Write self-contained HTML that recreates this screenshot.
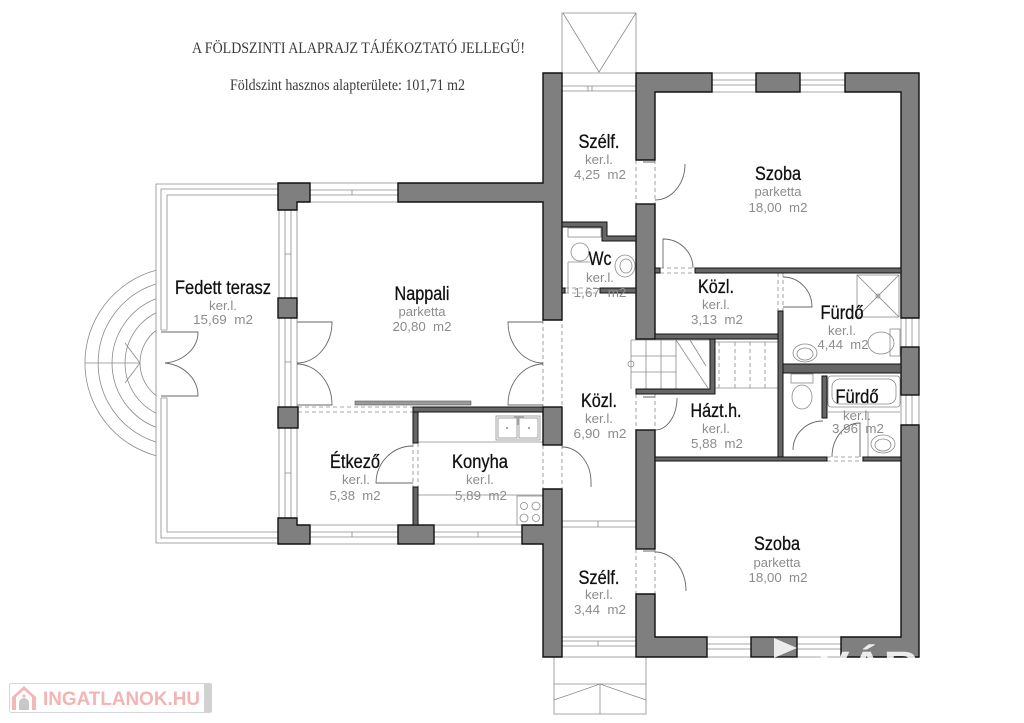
<!DOCTYPE html>
<html><head><meta charset="utf-8">
<style>
html,body{margin:0;padding:0;background:#fff;}
svg{display:block;}
.w{fill:#7f7f7f;stroke:#111;stroke-width:1.4;}
.t{fill:#666;stroke:#111;stroke-width:1;}
.l{fill:none;stroke:#8a8a8a;stroke-width:0.8;}
.d{fill:none;stroke:#8a8a8a;stroke-width:0.8;stroke-dasharray:4 3;}
.a{fill:none;stroke:#666;stroke-width:0.9;}
.n{font-family:"Liberation Sans",sans-serif;font-size:19px;fill:#111;stroke:#111;stroke-width:0.3;text-anchor:middle;}
.s{font-family:"Liberation Sans",sans-serif;font-size:13px;fill:#8c8c8c;text-anchor:middle;}
.ti{font-family:"Liberation Serif",serif;font-size:16px;fill:#3a3a3a;}
</style></head><body>
<svg width="1024" height="723" viewBox="0 0 1024 723" xmlns="http://www.w3.org/2000/svg">

<!-- Title -->
<text class="ti" x="192" y="53" textLength="333" lengthAdjust="spacingAndGlyphs">A FÖLDSZINTI ALAPRAJZ TÁJÉKOZTATÓ JELLEGŰ!</text>
<text class="ti" x="230" y="90" textLength="235" lengthAdjust="spacingAndGlyphs">Földszint hasznos alapterülete: 101,71 m2</text>

<!-- top steps -->
<path class="l" d="M562 73V13H636V73 M563 13L599 72L636 13"/>
<!-- bottom steps -->
<path class="l" d="M554 657V714H646V657 M554 684H646 M554 700L600 684L646 700 M600 684V714"/>

<!-- terrace frame -->
<path class="l" d="M278 184H156V543H278"/>
<path class="l" d="M278 189H161V330 M161 398V538H278"/>
<path class="l" d="M278 195H167V330H161 M161 398H167V532H278"/>
<!-- terrace step arcs -->
<path class="l" d="M156 270.3A96 96 0 0 0 156 455.7 M156 283.9A83 83 0 0 0 156 442.1 M156 298.7A69 69 0 0 0 156 427.3 M156 312.9A56 56 0 0 0 156 413.1 M156 330.5A41 41 0 0 0 156 395.5 M85 363H140 M125 343L140 363L125 383"/>
<!-- terrace door -->
<path class="a" d="M161 332H198A37 31 0 0 1 165 363 M161 396H198A37 33 0 0 0 165 363"/>

<!-- windows west -->
<path class="l" d="M279 210V298 M285 210V298 M291 210V298 M297 210V298 M279 318V407 M285 318V407 M291 318V407 M297 318V407 M279 428V518 M285 428V518 M291 428V518 M297 428V518 M285 254H291 M285 362H291 M285 473H291"/>
<!-- windows east -->
<path class="l" d="M906 318V347 M912 318V347 M906 395V425 M912 395V425 M901 318V347 M919 318V347 M901 395V425 M919 395V425"/>
<!-- horizontal windows -->
<path class="l" d="M310 183H398 M310 202H398 M310 190H398 M310 195H398 M352 190V195"/>
<path class="l" d="M562 86H636 M562 91H636 M562 73H636 M588 86V91 M592 86V91"/>
<path class="l" d="M712 80H756 M712 85H756 M712 73H756 M712 92H756 M800 80H845 M800 85H845 M800 73H845 M800 92H845"/>
<path class="l" d="M310 525H398 M310 544H398 M310 532H398 M310 537H398 M352 532V537 M434 525H522 M434 544H522 M434 532H522 M434 537H522 M478 532V537"/>
<path class="l" d="M562 521H636 M562 527H636 M598 521V527 M562 637H636 M562 657H636 M562 641H636 M562 646H636 M598 641V646"/>
<path class="l" d="M707 637H751 M707 657H751 M707 644H751 M707 649H751 M797 637H841 M797 657H841 M797 644H841 M797 649H841"/>

<!-- dashed door lines -->
<path class="d" d="M543 320V407 M562 296V407 M298 407H413 M298 412H413 M413 443V487 M418 443V487 M543 445V489 M562 445V489 M636 160V204 M655 160V204 M565 288H600 M565 293H600 M660 268H695 M660 273H695 M778 273V311 M783 273V311 M636 394V430 M655 394V430 M636 549V594 M655 549V594 M827 457H863 M827 461H863"/>

<!-- gray bar -->
<rect x="355" y="401" width="116" height="4" fill="#9a9a9a" stroke="#555" stroke-width="0.6"/>

<!-- door arcs -->
<path class="a" d="M297 322H332A35 41 0 0 1 297 363 M297 405H332A35 41 0 0 0 297 364"/>
<path class="a" d="M543 322H508A35 41 0 0 0 543 363 M543 405H508A35 41 0 0 1 543 364"/>
<path class="a" d="M413 483H376A37 37 0 0 1 413 446"/>
<path class="a" d="M562 447A29 35 0 0 1 591 482V487"/>
<path class="a" d="M643 162H655 M685 164A30 36 0 0 1 655 200"/>
<path class="a" d="M663 268V239A30 29 0 0 1 693 268"/>
<path class="a" d="M783 277A29 30 0 0 1 812 307H783"/>
<path class="a" d="M643 397H655 M677 398A22 32 0 0 1 655 430"/>
<path class="a" d="M643 551H655 M655 552A31 39 0 0 1 686 591"/>
<path class="a" d="M793 450A30 29 0 0 1 823 421"/>
<path class="a" d="M832 457A28 34 0 0 1 860 423V457"/>

<!-- stairs -->
<path class="l" d="M631 340H710 M631 340V389 M646 340V389 M661 340V389 M676 340V389 M631 356H676 M631 372H676 M676 340L708 388 M690 340L706 366"/>
<circle class="l" cx="631" cy="364" r="3"/>
<path class="l" d="M715 342H778 M715 388H778"/>
<path class="d" d="M719 342V388 M735 342V388 M750 342V388 M765 342V388"/>

<!-- kitchen fixtures -->
<path class="l" d="M418 442H543 M418 495H543"/>
<rect class="l" x="496" y="416" width="44" height="24"/>
<rect class="l" x="498" y="418" width="19" height="20"/>
<rect class="l" x="519" y="418" width="19" height="20"/>
<path class="l" d="M514 417H524 M518 417V425"/>
<circle cx="507" cy="428" r="1" fill="#888"/><circle cx="529" cy="428" r="1" fill="#888"/>
<rect class="l" x="517" y="496" width="26" height="29"/>
<circle class="l" cx="524" cy="506" r="3.5"/><circle class="l" cx="536" cy="506" r="4"/>
<circle class="l" cx="524" cy="518" r="4"/><circle class="l" cx="536" cy="518" r="3.5"/>

<!-- WC fixtures -->
<rect class="l" x="568" y="228" width="33" height="9"/>
<circle class="l" cx="580" cy="252" r="9"/>
<path class="l" d="M568 262V293 M568 262H590"/>
<ellipse class="l" cx="625" cy="266" rx="10" ry="11"/>
<ellipse class="l" cx="626" cy="266" rx="6" ry="7"/>

<!-- bath fixtures -->
<rect class="l" x="857" y="275" width="42" height="42"/>
<path class="l" d="M857 275L899 317 M899 275L857 317"/>
<circle class="l" cx="878" cy="296" r="2"/>
<rect class="l" x="890" y="329" width="10" height="27"/>
<ellipse class="l" cx="881" cy="343" rx="13" ry="11"/>
<ellipse class="l" cx="805" cy="353" rx="12" ry="9"/>
<ellipse class="l" cx="805" cy="354" rx="8" ry="6"/>
<rect class="l" x="791" y="374" width="22" height="9"/>
<ellipse class="l" cx="802" cy="397" rx="10" ry="12"/>
<rect class="l" x="828" y="376" width="72" height="31" rx="3"/>
<rect class="l" x="832" y="379" width="64" height="25" rx="8"/>
<path class="l" d="M828 412H900 M868 412V457"/>
<ellipse class="l" cx="883" cy="444" rx="12" ry="9"/>
<ellipse class="l" cx="883" cy="445" rx="8" ry="6"/>

<!-- thick walls -->
<path class="w" d="M278 183H310V202H297V210H278Z"/>
<rect class="w" x="278" y="298" width="19" height="20"/>
<rect class="w" x="278" y="407" width="20" height="21"/>
<path class="w" d="M278 518H297V525H310V544H278Z"/>
<rect class="w" x="398" y="525" width="36" height="19"/>
<path class="w" d="M522 525H543V489H562V657H543V544H522Z"/>
<rect class="w" x="543" y="407" width="19" height="38"/>
<path class="w" d="M398 183H543V73H562V320H543V202H398Z"/>
<path class="w" d="M636 73H712V92H655V160H636Z"/>
<rect class="w" x="756" y="73" width="44" height="19"/>
<path class="w" d="M845 73H919V318H901V92H845Z"/>
<rect class="w" x="901" y="347" width="18" height="48"/>
<path class="w" d="M901 425H919V657H841V637H901Z"/>
<rect class="w" x="751" y="637" width="46" height="20"/>
<rect class="w" x="636" y="430" width="19" height="119"/>
<path class="w" d="M636 594H655V637H707V657H636Z"/>
<rect class="w" x="636" y="204" width="19" height="135"/>

<!-- thin walls -->
<rect class="t" x="413" y="407" width="130" height="5"/>
<rect class="t" x="413" y="412" width="5" height="31"/>
<rect class="t" x="413" y="487" width="5" height="38"/>
<path class="t" d="M562 222H607V236H636V241H602V227H562Z"/>
<rect class="t" x="600" y="288" width="36" height="5"/>
<rect class="t" x="562" y="288" width="3" height="5"/>
<rect class="t" x="695" y="268" width="206" height="5"/>
<rect class="t" x="655" y="268" width="5" height="5"/>
<rect class="t" x="655" y="334" width="123" height="5"/>
<rect class="t" x="778" y="311" width="5" height="150"/>
<path class="t" d="M636 389H710V339H715V394H636Z"/>
<rect class="t" x="655" y="457" width="172" height="4"/>
<rect class="t" x="863" y="457" width="38" height="4"/>
<rect class="t" x="783" y="364" width="118" height="9"/>
<rect class="t" x="822" y="376" width="5" height="42"/>

<!-- watermark -->
<polygon points="774,638 797,648 774,658" fill="#fff" opacity="0.85"/>
<text x="818" y="678" font-family="Liberation Sans, sans-serif" font-weight="bold" font-size="38" fill="#fff" opacity="0.85" textLength="100" lengthAdjust="spacingAndGlyphs">VÁR</text>

<!-- labels -->
<text class="n" x="223" y="294" textLength="96" lengthAdjust="spacingAndGlyphs">Fedett terasz</text>
<text class="s" x="223" y="310" textLength="28" lengthAdjust="spacingAndGlyphs">ker.l.</text>
<text class="s" x="223" y="324" textLength="60" lengthAdjust="spacingAndGlyphs" xml:space="preserve">15,69  m2</text>

<text class="n" x="422" y="300" textLength="55" lengthAdjust="spacingAndGlyphs">Nappali</text>
<text class="s" x="422" y="316" textLength="47" lengthAdjust="spacingAndGlyphs">parketta</text>
<text class="s" x="422" y="331" textLength="59" lengthAdjust="spacingAndGlyphs" xml:space="preserve">20,80  m2</text>

<text class="n" x="355" y="468" textLength="50" lengthAdjust="spacingAndGlyphs">Étkező</text>
<text class="s" x="356" y="484" textLength="28" lengthAdjust="spacingAndGlyphs">ker.l.</text>
<text class="s" x="355" y="500" textLength="51" lengthAdjust="spacingAndGlyphs" xml:space="preserve">5,38  m2</text>

<text class="n" x="480" y="468" textLength="56" lengthAdjust="spacingAndGlyphs">Konyha</text>
<text class="s" x="480" y="484" textLength="28" lengthAdjust="spacingAndGlyphs">ker.l.</text>
<text class="s" x="481" y="500" textLength="52" lengthAdjust="spacingAndGlyphs" xml:space="preserve">5,89  m2</text>

<text class="n" x="599" y="407" textLength="36" lengthAdjust="spacingAndGlyphs">Közl.</text>
<text class="s" x="599" y="423" textLength="28" lengthAdjust="spacingAndGlyphs">ker.l.</text>
<text class="s" x="600" y="438" textLength="53" lengthAdjust="spacingAndGlyphs" xml:space="preserve">6,90  m2</text>

<text class="n" x="716" y="417" textLength="51" lengthAdjust="spacingAndGlyphs">Házt.h.</text>
<text class="s" x="716" y="433" textLength="28" lengthAdjust="spacingAndGlyphs">ker.l.</text>
<text class="s" x="717" y="448" textLength="52" lengthAdjust="spacingAndGlyphs" xml:space="preserve">5,88  m2</text>

<text class="n" x="716" y="293" textLength="36" lengthAdjust="spacingAndGlyphs">Közl.</text>
<text class="s" x="716" y="309" textLength="28" lengthAdjust="spacingAndGlyphs">ker.l.</text>
<text class="s" x="717" y="324" textLength="52" lengthAdjust="spacingAndGlyphs" xml:space="preserve">3,13  m2</text>

<text class="n" x="600" y="265" textLength="23" lengthAdjust="spacingAndGlyphs">Wc</text>
<text class="s" x="600" y="282" textLength="28" lengthAdjust="spacingAndGlyphs">ker.l.</text>
<text class="s" x="600" y="297" textLength="53" lengthAdjust="spacingAndGlyphs" xml:space="preserve">1,67  m2</text>

<text class="n" x="599" y="148" textLength="41" lengthAdjust="spacingAndGlyphs">Szélf.</text>
<text class="s" x="599" y="164" textLength="28" lengthAdjust="spacingAndGlyphs">ker.l.</text>
<text class="s" x="600" y="179" textLength="52" lengthAdjust="spacingAndGlyphs" xml:space="preserve">4,25  m2</text>

<text class="n" x="778" y="180" textLength="46" lengthAdjust="spacingAndGlyphs">Szoba</text>
<text class="s" x="778" y="196" textLength="47" lengthAdjust="spacingAndGlyphs">parketta</text>
<text class="s" x="778" y="212" textLength="59" lengthAdjust="spacingAndGlyphs" xml:space="preserve">18,00  m2</text>

<text class="n" x="842" y="319" textLength="43" lengthAdjust="spacingAndGlyphs">Fürdő</text>
<text class="s" x="842" y="335" textLength="28" lengthAdjust="spacingAndGlyphs">ker.l.</text>
<text class="s" x="843" y="349" textLength="51" lengthAdjust="spacingAndGlyphs" xml:space="preserve">4,44  m2</text>

<text class="n" x="857" y="403" textLength="43" lengthAdjust="spacingAndGlyphs">Fürdő</text>
<text class="s" x="857" y="420" textLength="28" lengthAdjust="spacingAndGlyphs">ker.l.</text>
<text class="s" x="858" y="433" textLength="52" lengthAdjust="spacingAndGlyphs" xml:space="preserve">3,96  m2</text>

<text class="n" x="777" y="550" textLength="46" lengthAdjust="spacingAndGlyphs">Szoba</text>
<text class="s" x="777" y="567" textLength="47" lengthAdjust="spacingAndGlyphs">parketta</text>
<text class="s" x="778" y="582" textLength="59" lengthAdjust="spacingAndGlyphs" xml:space="preserve">18,00  m2</text>

<text class="n" x="599" y="584" textLength="41" lengthAdjust="spacingAndGlyphs">Szélf.</text>
<text class="s" x="599" y="599" textLength="28" lengthAdjust="spacingAndGlyphs">ker.l.</text>
<text class="s" x="600" y="614" textLength="52" lengthAdjust="spacingAndGlyphs" xml:space="preserve">3,44  m2</text>

<!-- logo -->
<rect x="9.5" y="683.5" width="202" height="29" fill="#fff" stroke="#d6d6d6" stroke-width="1" rx="2"/>
<rect x="204" y="683.5" width="8" height="29" fill="#d2d2d2"/>
<polygon points="12,697 24,686 36,697 36,710 12,710" fill="#f4b8b8"/>
<polygon points="16,697 24,690 32,697 32,710 16,710" fill="#fff"/>
<path d="M19 710V703A5 5 0 0 1 29 703V710Z" fill="#c8c8c8"/>
<circle cx="24" cy="696" r="1.6" fill="#f4b8b8"/>
<text x="43" y="705" font-family="Liberation Sans, sans-serif" font-weight="bold" font-size="19" fill="#f2b4b4" textLength="157" lengthAdjust="spacingAndGlyphs">INGATLANOK.HU</text>
</svg>
</body></html>
